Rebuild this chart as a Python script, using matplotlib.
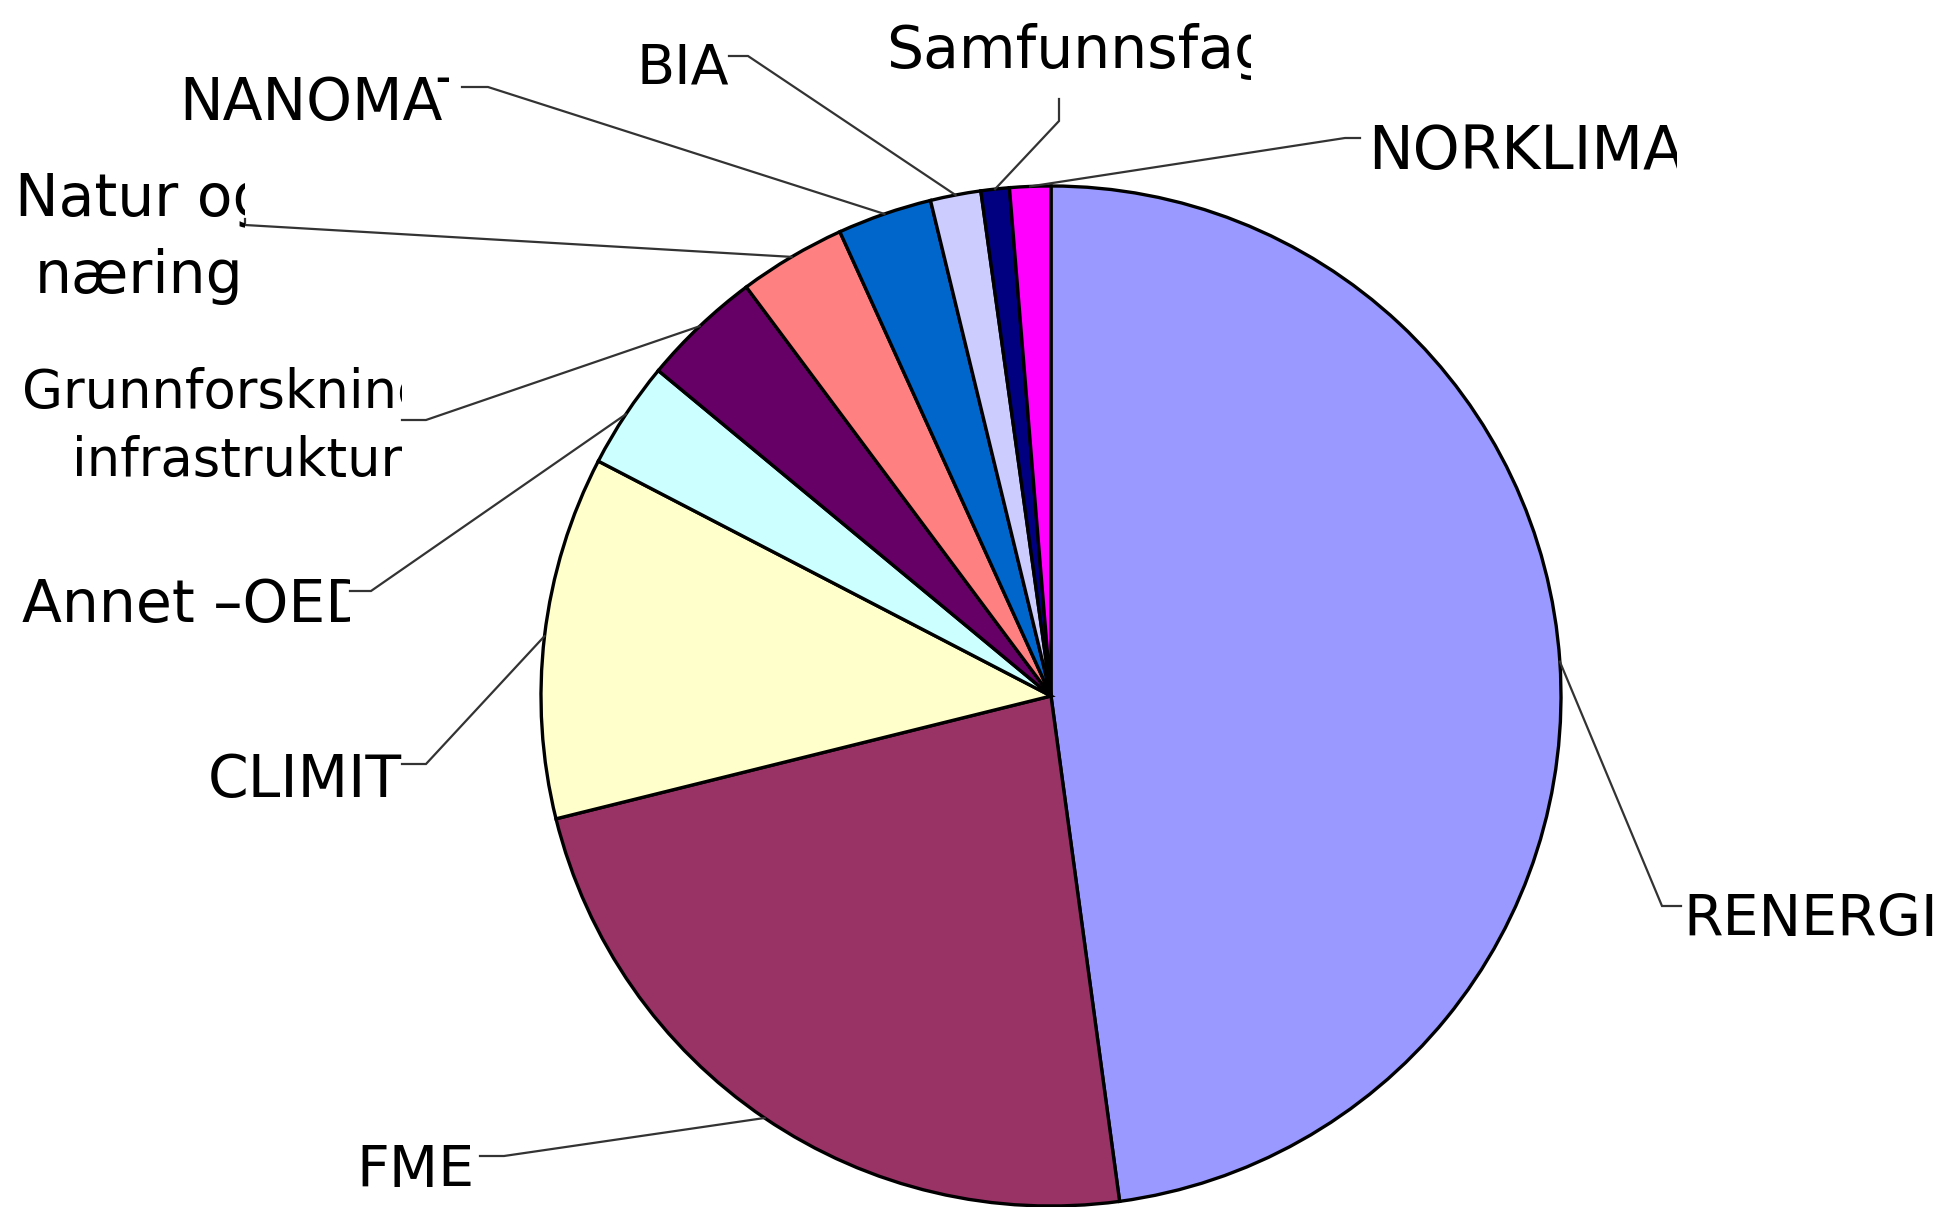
import numpy as np
import matplotlib
matplotlib.use("Agg")
import matplotlib.pyplot as plt
from matplotlib.transforms import Bbox, TransformedBbox

# Share of funding per programme (percent), clockwise from 12 o'clock
programmes = ["RENERGI", "FME", "CLIMIT", "Annet -OED", "Grunnforskning og infrastruktur",
              "Natur og næring", "NANOMAT", "BIA", "Samfunnsfag", "NORKLIMA"]
shares = [47.9, 23.3, 11.5, 3.4, 3.8, 3.4, 3.0, 1.6, 0.9, 1.3]
colors = ["#9999FF", "#993366", "#FFFFCC", "#CCFFFF", "#660066",
          "#FF8080", "#0066CC", "#CCCCFF", "#000080", "#FF00FF"]

# label text lines as shown (the source chart clips its label boxes)
label_lines = [["RENERGI"], ["FME"], ["CLIMIT"], ["Annet \u2013OED"],
               ["Grunnforskning", "infrastruktur"], ["Natur og", "næring"],
               ["NANOMAT"], ["BIA"], ["Samfunnsfag"], ["NORKLIMA"]]

# layout in image pixels (x from left, y from top)
W, H = 1938, 1207
CX, CY, R = 1051, 696, 510
line_pos = [[(1683, 936)], [(356, 1187)], [(208, 797)], [(22, 622)],
            [(22, 408), (72, 476)], [(15, 216), (35, 293)],
            [(179, 120)], [(637, 84)], [(886, 68)], [(1368, 169)]]
font_sizes = [41, 41, 42, 42, 38, 42, 42, 40, 42, 43]
clip_right = [W, W, 402, 350, 402, 245, 449, W, 1251, 1677]
stubs = [[(1681, 906), (1662, 906)], [(480, 1156), (504, 1156)],
         [(402, 764), (426, 764)], [(350, 591), (371, 591)],
         [(402, 420), (426, 420)], [(245, 219), (245, 225)],
         [(462, 87), (488, 87)], [(729, 56), (748, 56)],
         [(1059, 99), (1059, 121)], [(1360, 138), (1345, 138)]]

fig = plt.figure(figsize=(W / 100, H / 100), dpi=100)
ax = fig.add_axes([0, 0, 1, 1])

ax.pie(shares, colors=colors, startangle=90, counterclock=False,
       center=(CX, H - CY), radius=R,
       wedgeprops=dict(edgecolor="black", linewidth=2.4))
ax.set_xlim(0, W)
ax.set_ylim(0, H)
ax.set_aspect("equal")
ax.axis("off")

# leader lines go to the middle of each wedge's arc
cum = np.cumsum([0] + shares)
total = cum[-1]
for i in range(len(programmes)):
    mid = np.deg2rad((cum[i] + cum[i + 1]) / 2 / total * 360)
    ax_x = CX + R * np.sin(mid)
    ax_y = (H - CY) + R * np.cos(mid)
    (x1, y1), (x2, y2) = stubs[i]
    ax.plot([x1, x2, ax_x], [H - y1, H - y2, ax_y], color="#333333", lw=1.6,
            solid_joinstyle="miter", zorder=3)

    clip = TransformedBbox(Bbox.from_extents(0, 0, clip_right[i], H), ax.transData)
    for txt, (tx, ty) in zip(label_lines[i], line_pos[i]):
        t = ax.text(tx, H - ty, txt, fontsize=font_sizes[i], family="DejaVu Sans",
                    ha="left", va="baseline", color="black", clip_on=True)
        t.set_clip_box(clip)

fig.savefig("out.png", dpi=100)
